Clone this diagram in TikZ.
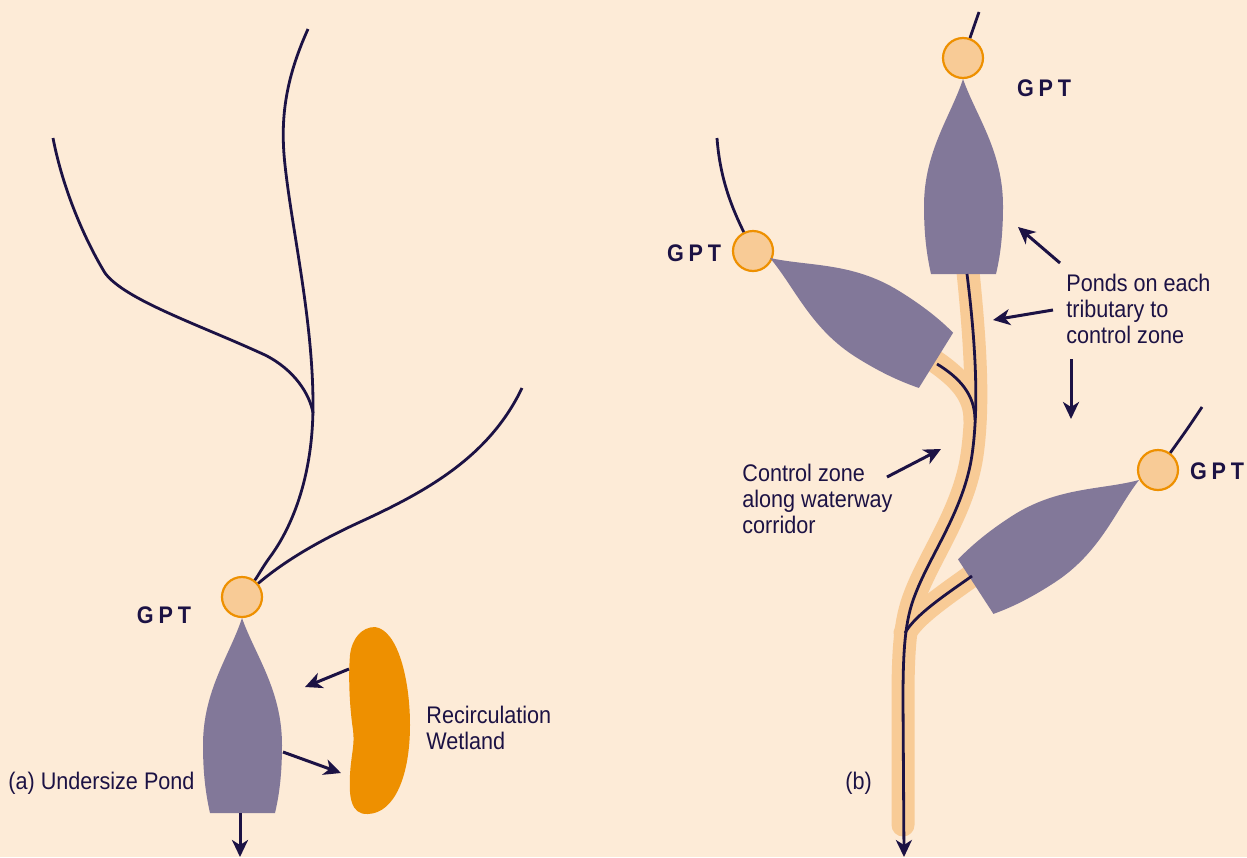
\documentclass[tikz,border=0pt]{standalone}
\usepackage{fontspec}
\setmainfont{Liberation Sans}[FakeStretch=0.9]
\usetikzlibrary{arrows.meta}

\definecolor{paper}{HTML}{FDEBD7}
\definecolor{pondc}{HTML}{827899}
\definecolor{ink}{HTML}{1C1244}
\definecolor{peach}{HTML}{F8CB96}
\definecolor{amber}{HTML}{EE9000}

\newcommand{\gpttext}{\textbf{G\hspace{2.4pt}P\hspace{2.4pt}T}}

\begin{document}
\begin{tikzpicture}[
  x=0.5pt, y=-0.5pt,
  font=\fontsize{12}{13}\selectfont,
  every node/.style={text=ink, inner sep=0pt},
  lbl/.style={align=left, anchor=west},
  gpt/.style={circle, draw=amber, fill=peach, line width=1.1pt, minimum size=20pt},
  river/.style={draw=ink, line width=1.4pt},
  zone/.style={draw=peach, line width=11.5pt, line cap=round},
  arr/.style={-{Stealth[length=8.5pt, width=8pt, inset=2.5pt]}, draw=ink, line width=1.5pt},
  basin/.pic={\fill[pondc] (0,0) .. controls (13,37) and (40,72) .. (40,127)
      .. controls (40,162) and (36,182) .. (33,195) -- (-32,195)
      .. controls (-36,177) and (-39,157) .. (-39,127)
      .. controls (-39,72) and (-12,37) .. (0,0) -- cycle;},
]
\fill[paper] (0,0) rectangle (1247,857);
\useasboundingbox (0,0) rectangle (1247,857);

% (a) undersize pond
\node[gpt] (gptA) at (242,597) {};
\pic at (242,618) {basin};
\draw[river] (308,29) .. controls (285,80) and (280,120) .. (285,165)
  .. controls (292,230) and (313,320) .. (313,405)
  .. controls (313,480) and (290,530) .. (270,557)
  .. controls (262,568) and (258,576) .. (gptA);
\draw[river] (53,138) .. controls (63,190) and (85,240) .. (105,273)
  .. controls (125,300) and (200,325) .. (265,355)
  .. controls (295,370) and (310,395) .. (313,413);
\draw[river] (522,388) .. controls (490,455) and (430,490) .. (360,522)
  .. controls (310,545) and (280,565) .. (gptA);
\fill[amber] (375,627) .. controls (398,630) and (410,680) .. (410,725)
  .. controls (410,775) and (395,813) .. (368,814)
  .. controls (350,815) and (349,795) .. (350,775)
  .. controls (351,755) and (355,745) .. (353,730)
  .. controls (350,710) and (348,680) .. (350,655)
  .. controls (352,638) and (362,627) .. (375,627) -- cycle;

\coordinate (outA) at (240,813);
\coordinate (endA) at (240,857);
\coordinate (wetOut) at (349,669);
\coordinate (wetTip) at (305,687);
\coordinate (pondOut) at (283,752);
\coordinate (pondTip) at (341,773);
\draw[arr] (outA) -- (endA);
\draw[arr] (wetOut) -- (wetTip);
\draw[arr] (pondOut) -- (pondTip);

\node (lblA) at (164,615) {\gpttext};
\node[lbl] (wetnote) at (426,728) {Recirculation\\Wetland};
\node[lbl] (capa) at (8,783) {(a) Undersize Pond};

% (b) ponds on each tributary
\draw[zone] (967,262) .. controls (974,330) and (980,400) .. (972,455)
  .. controls (964,510) and (930,555) .. (915,595)
  .. controls (905,620) and (903,650) .. (903,700) -- (903,825);
\draw[zone] (930,358) .. controls (960,378) and (975,395) .. (975,420);
\draw[zone] (980,570) .. controls (945,595) and (915,615) .. (905,633);

\node[gpt] (gptT) at (963,58) {};
\node[gpt] (gptL) at (753,251) {};
\node[gpt] (gptR) at (1158,470) {};
\pic at (963,79) {basin};
\pic[rotate=58.2] at (770,258) {basin};
\pic[rotate=-57] at (1139,480) {basin};

\draw[river] (979,12) -- (gptT);
\draw[river] (717,138) .. controls (720,180) and (733,210) .. (gptL);
\draw[river] (1202,407) .. controls (1188,428) .. (gptR);
\draw[river, -{Stealth[length=8.5pt, width=8pt, inset=2.5pt]}]
  (967,274) .. controls (974,330) and (980,400) .. (972,455)
  .. controls (964,510) and (930,555) .. (915,595)
  .. controls (905,620) and (903,650) .. (903,700) -- (904,857);
\draw[river] (937,364) .. controls (960,378) and (975,395) .. (975,420);
\draw[river] (972,576) .. controls (945,595) and (915,615) .. (905,633);

\node (lblT) at (1044,88) {\gpttext};
\node (lblL) at (694,253) {\gpttext};
\node (lblR) at (1217,471) {\gpttext};
\node[lbl] (pondsnote) at (1066,309) {Ponds on each\\tributary to\\control zone};
\node[lbl] (zonenote) at (742,499) {Control zone\\along waterway\\corridor};
\node[lbl] (capb) at (845,783) {(b)};

\coordinate (n1) at (1060,263);
\coordinate (t1) at (1018,227);
\coordinate (n2) at (1053,310);
\coordinate (t2) at (993,320);
\coordinate (n3) at (1071,359);
\coordinate (t3) at (1071,419);
\coordinate (n4) at (887,477);
\coordinate (t4) at (941,449);
\draw[arr] (n1) -- (t1);
\draw[arr] (n2) -- (t2);
\draw[arr] (n3) -- (t3);
\draw[arr] (n4) -- (t4);
\end{tikzpicture}
\end{document}
